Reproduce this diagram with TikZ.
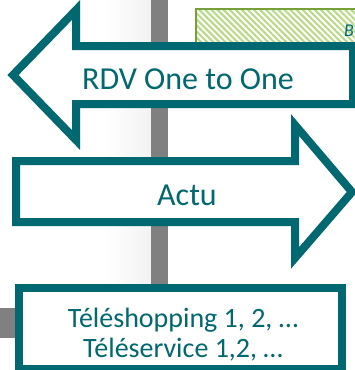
\documentclass[tikz,border=0pt]{standalone}
\usepackage{fontspec}
\setmainfont{Carlito}
\usetikzlibrary{patterns.meta}
\definecolor{teal1}{RGB}{0,104,112}
\definecolor{barg}{RGB}{128,128,128}
\definecolor{hgreen}{RGB}{118,160,58}
\definecolor{lgreen}{RGB}{184,220,140}
\tikzset{
  shape box/.style={draw=teal1, line width=8pt, fill=white, miter limit=20},
  lbl/.style={text=teal1, inner sep=0pt, font=\fontsize{32}{34}\selectfont},
  small lbl/.style={text=teal1, inner sep=0pt, font=\fontsize{28}{30}\selectfont, anchor=base},
}
\begin{document}
\begin{tikzpicture}[x=1pt,y=-1pt]
\useasboundingbox (0,0) rectangle (355,370);
% background gradient
\shade[left color=white, right color=black!5] (105,0) rectangle (151,370);
% gray bars
\fill[barg] (151,0) rectangle (168,295);
\fill[barg] (0,308) rectangle (20,338);
% hatched green rectangle
\path[pattern={Lines[angle=-45,distance=4.3pt,line width=2.2pt]}, pattern color=lgreen] (196,9) rectangle (360,48);
\draw[hgreen, line width=2pt] (360,9) -- (196,9) -- (196,48);
\node[text=teal1, font=\fontsize{18}{20}\selectfont\itshape, anchor=base west, inner sep=0pt] (b) at (344,36) {B};
% left arrow
\draw[shape box] (13,75) -- (76,10) -- (76,46) -- (353,46) -- (353,104) -- (76,104) -- (76,140) -- cycle;
\node[lbl, anchor=base] (rdv) at (188,89) {RDV One to One};
% right arrow
\draw[shape box] (16,161) -- (295,161) -- (295,125) -- (352,192) -- (295,258) -- (295,222) -- (16,222) -- cycle;
\node[lbl, anchor=base] (actu) at (187,205) {Actu};
% bottom box
\draw[draw=teal1, line width=8pt, fill=white] (19,288) rectangle (342,369);
\node[small lbl] (tele1) at (183,327) {Téléshopping 1, 2, …};
\node[small lbl] (tele2) at (183,357) {Téléservice 1,2, …};
\end{tikzpicture}
\end{document}
